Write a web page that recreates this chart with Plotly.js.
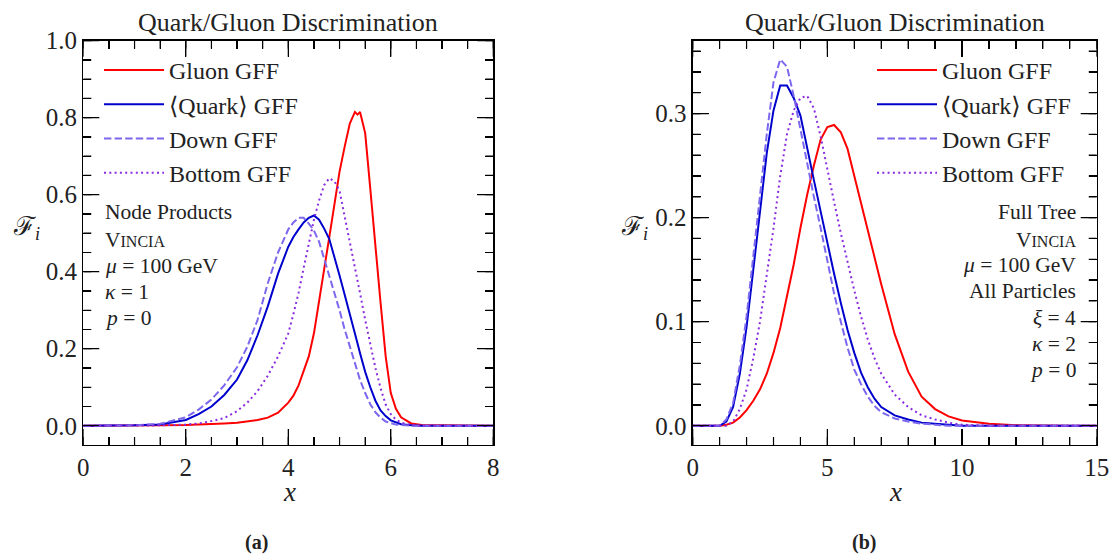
<!DOCTYPE html>
<html>
<head>
<meta charset="utf-8">
<script src="https://cdn.plot.ly/plotly-3.0.1.min.js"></script>
<style>html,body{margin:0;padding:0;background:#fff;}#chart{width:1110px;height:554px;}</style>
</head>
<body>
<div id="chart"></div>
<script>
// ---------- data ----------
var seriesNames = ['Gluon GFF', '\u27E8Quark\u27E9 GFF', 'Down GFF', 'Bottom GFF'];

// (a) Node Products
var xLeft = [0, 0.5, 1.0, 1.5, 2.0, 2.25, 2.5, 2.75, 3.0, 3.2, 3.4, 3.6, 3.8, 4.0, 4.1, 4.2, 4.3, 4.4, 4.5, 4.6, 4.7, 4.8, 4.9, 5.0, 5.1, 5.2, 5.3, 5.35, 5.4, 5.5, 5.6, 5.7, 5.8, 5.9, 6.0, 6.1, 6.2, 6.4, 6.6, 7.0, 7.5, 8.0];
var gluonLeft  = [0, 0, 0, 0.001, 0.002, 0.003, 0.004, 0.006, 0.008, 0.011, 0.015, 0.021, 0.034, 0.06, 0.078, 0.105, 0.14, 0.18, 0.24, 0.32, 0.405, 0.49, 0.575, 0.66, 0.725, 0.785, 0.815, 0.808, 0.815, 0.76, 0.615, 0.46, 0.32, 0.18, 0.085, 0.044, 0.022, 0.006, 0.002, 0.001, 0, 0];
var quarkLeft  = [0, 0, 0.001, 0.003, 0.015, 0.03, 0.05, 0.08, 0.12, 0.17, 0.235, 0.31, 0.395, 0.465, 0.49, 0.51, 0.528, 0.54, 0.546, 0.535, 0.512, 0.485, 0.44, 0.39, 0.34, 0.292, 0.24, 0.214, 0.188, 0.14, 0.1, 0.065, 0.04, 0.025, 0.014, 0.008, 0.004, 0.001, 0, 0, 0, 0];
var downLeft   = [0, 0, 0.001, 0.005, 0.022, 0.042, 0.068, 0.105, 0.152, 0.205, 0.275, 0.37, 0.45, 0.51, 0.528, 0.54, 0.54, 0.525, 0.507, 0.478, 0.435, 0.39, 0.345, 0.30, 0.25, 0.205, 0.16, 0.14, 0.119, 0.085, 0.056, 0.035, 0.021, 0.011, 0.006, 0.003, 0.002, 0, 0, 0, 0, 0];
var bottomLeft = [0, 0, 0, 0.001, 0.003, 0.006, 0.012, 0.02, 0.038, 0.06, 0.09, 0.13, 0.18, 0.24, 0.29, 0.345, 0.41, 0.47, 0.535, 0.585, 0.625, 0.643, 0.635, 0.61, 0.545, 0.475, 0.41, 0.377, 0.344, 0.275, 0.21, 0.15, 0.098, 0.055, 0.03, 0.016, 0.008, 0.002, 0, 0, 0, 0];

// (b) Full Tree
var xRight = [0, 0.5, 1.0, 1.25, 1.5, 1.75, 2.0, 2.25, 2.5, 2.75, 3.0, 3.25, 3.5, 3.75, 4.0, 4.25, 4.5, 4.75, 5.0, 5.25, 5.5, 5.75, 6.0, 6.25, 6.5, 6.75, 7.0, 7.5, 8.0, 8.5, 9.0, 9.5, 10, 11, 12, 13, 14, 15];
var gluonRight  = [0, 0, 0, 0.001, 0.003, 0.008, 0.015, 0.024, 0.035, 0.05, 0.07, 0.094, 0.124, 0.155, 0.19, 0.222, 0.25, 0.275, 0.287, 0.289, 0.282, 0.266, 0.24, 0.213, 0.187, 0.162, 0.136, 0.088, 0.052, 0.028, 0.016, 0.009, 0.005, 0.002, 0.0005, 0, 0, 0];
var quarkRight  = [0, 0, 0, 0.004, 0.018, 0.05, 0.095, 0.15, 0.208, 0.262, 0.303, 0.327, 0.327, 0.315, 0.298, 0.266, 0.236, 0.206, 0.175, 0.146, 0.118, 0.092, 0.07, 0.051, 0.037, 0.026, 0.018, 0.01, 0.006, 0.003, 0.002, 0.001, 0, 0, 0, 0, 0, 0];
var downRight   = [0, 0, 0, 0.006, 0.022, 0.058, 0.105, 0.163, 0.222, 0.28, 0.33, 0.352, 0.345, 0.317, 0.285, 0.252, 0.22, 0.19, 0.158, 0.127, 0.1, 0.075, 0.054, 0.04, 0.028, 0.019, 0.013, 0.007, 0.004, 0.002, 0.001, 0, 0, 0, 0, 0, 0, 0];
var bottomRight = [0, 0, 0, 0, 0.004, 0.016, 0.035, 0.065, 0.1, 0.145, 0.19, 0.24, 0.28, 0.303, 0.315, 0.317, 0.305, 0.278, 0.245, 0.215, 0.185, 0.157, 0.13, 0.105, 0.083, 0.065, 0.05, 0.03, 0.018, 0.01, 0.006, 0.003, 0.001, 0, 0, 0, 0, 0];

var titleText = 'Quark/Gluon Discrimination';
var leftInfo  = ['Node Products', 'V<span style="font-size:16px">INCIA</span>', '<i>\u03BC</i> = 100 GeV', '<i>\u03BA</i> = 1', '<i>p</i> = 0'];
var rightInfo = ['Full Tree', 'V<span style="font-size:16px">INCIA</span>', '<i>\u03BC</i> = 100 GeV', 'All Particles', '<i>\u03BE</i> = 4', '<i>\u03BA</i> = 2', '<i>p</i> = 0'];
var panelLabels = ['(a)', '(b)'];

(function () {
  var FONT = '"Liberation Serif", "DejaVu Serif", serif';
  var colors = ['#ff0000', '#0000cd', '#7b68ee', '#8a2be2'];
  var dashes = ['solid', 'solid', '7.4px,3.2px', '2px,3.3px'];
  var W = 1110, H = 554;
  function fx(x) { return x / W; }
  function fy(y) { return 1 - y / H; }

  var yTop = 40.7, yBot = 445;
  var xL0 = 83.3, xL1 = 493.3, xR0 = 692.7, xR1 = 1096.7;
  var rangeXL = [0, 8], rangeYL = [-0.05, 1.0], rangeXR = [0, 15], rangeYR = [-0.0185, 0.37];

  var traces = [];

  // inside tick marks on all four sides of each panel, drawn as thin line traces
  function tickValues(lo, hi, step) {
    var out = [], n = Math.round((hi - lo) / step);
    for (var k = 0; k <= n; k++) out.push(Math.round((lo + k * step) * 1e6) / 1e6);
    return out;
  }
  function tickTrace(xa, ya, rx, ry, pw, ph, xMaj, xMin, yMaj, yMin) {
    var xs = [], ys = [];
    var ux = (rx[1] - rx[0]) / pw, uy = (ry[1] - ry[0]) / ph;
    function xt(vals, len) {
      vals.forEach(function (v) {
        xs.push(v, v, null, v, v, null);
        ys.push(ry[0], ry[0] + len * uy, null, ry[1] - len * uy, ry[1], null);
      });
    }
    function yt(vals, len) {
      vals.forEach(function (v) {
        if (v < ry[0] || v > ry[1]) return;
        xs.push(rx[0], rx[0] + len * ux, null, rx[1] - len * ux, rx[1], null);
        ys.push(v, v, null, v, v, null);
      });
    }
    xt(xMaj, 16); xt(xMin, 8); yt(yMaj, 16); yt(yMin, 8);
    return {x: xs, y: ys, type: 'scatter', mode: 'lines', xaxis: xa, yaxis: ya, showlegend: false,
      hoverinfo: 'skip', connectgaps: false, line: {color: '#000', width: 1.2}};
  }
  traces.push(tickTrace('x', 'y', rangeXL, rangeYL, xL1 - xL0, yBot - yTop,
    tickValues(0, 8, 2), tickValues(0, 8, 0.5), tickValues(0, 1, 0.2), tickValues(0, 1, 0.05)));
  traces.push(tickTrace('x2', 'y2', rangeXR, rangeYR, xR1 - xR0, yBot - yTop,
    tickValues(0, 15, 5), tickValues(0, 15, 1), tickValues(0, 0.3, 0.1), tickValues(0, 0.36, 0.02)));

  var leftY = [gluonLeft, quarkLeft, downLeft, bottomLeft];
  var rightY = [gluonRight, quarkRight, downRight, bottomRight];
  for (var i = 0; i < 4; i++) {
    traces.push({x: xLeft, y: leftY[i], type: 'scatter', mode: 'lines', name: seriesNames[i],
      line: {color: colors[i], width: 2, dash: dashes[i]}, xaxis: 'x', yaxis: 'y', legend: 'legend'});
  }
  for (var j = 0; j < 4; j++) {
    traces.push({x: xRight, y: rightY[j], type: 'scatter', mode: 'lines', name: seriesNames[j],
      line: {color: colors[j], width: 2, dash: dashes[j]}, xaxis: 'x2', yaxis: 'y2', legend: 'legend2'});
  }

  function axis(opts, minorDtick) {
    var ax = {
      showline: true, linecolor: '#000', linewidth: 1.3, mirror: 'allticks', layer: 'above traces',
      ticks: 'inside', ticklen: 16, tickwidth: 1.2, tickcolor: '#000',
      showgrid: false, zeroline: false,
      tickfont: {family: FONT, size: 25, color: '#222'},
      minor: {ticks: 'inside', ticklen: 8, tickwidth: 1.2, tickcolor: '#000', dtick: minorDtick, showgrid: false}
    };
    for (var k in opts) ax[k] = opts[k];
    return ax;
  }

  var layout = {
    width: W, height: H,
    margin: {l: 0, r: 0, t: 0, b: 0},
    paper_bgcolor: '#fff', plot_bgcolor: '#fff',
    font: {family: FONT, color: '#222'},
    showlegend: true,
    xaxis: axis({domain: [fx(xL0), fx(xL1)], range: rangeXL, dtick: 2, tick0: 0, anchor: 'y'}, 0.5),
    yaxis: axis({domain: [fy(yBot), fy(yTop)], range: rangeYL, dtick: 0.2, tick0: 0, tickformat: '.1f', anchor: 'x'}, 0.05),
    xaxis2: axis({domain: [fx(xR0), fx(xR1)], range: rangeXR, dtick: 5, tick0: 0, anchor: 'y2'}, 1),
    yaxis2: axis({domain: [fy(yBot), fy(yTop)], range: rangeYR, dtick: 0.1, tick0: 0, tickformat: '.1f', anchor: 'x2'}, 0.02),
    legend: {x: fx(99), y: fy(48), xanchor: 'left', yanchor: 'top', bgcolor: 'rgba(0,0,0,0)', borderwidth: 0,
      font: {family: FONT, size: 24, color: '#222'}, itemwidth: 60, tracegroupgap: 0},
    legend2: {x: fx(872), y: fy(48), xanchor: 'left', yanchor: 'top', bgcolor: 'rgba(0,0,0,0)', borderwidth: 0,
      font: {family: FONT, size: 24, color: '#222'}, itemwidth: 60, tracegroupgap: 0},
    annotations: []
  };

  var ann = layout.annotations;
  function addText(text, x, y, size, xanchor) {
    ann.push({text: text, xref: 'paper', yref: 'paper', x: fx(x), y: fy(y), xanchor: xanchor || 'center', yanchor: 'middle',
      showarrow: false, font: {family: FONT, size: size, color: '#222'}});
  }
  addText(titleText, 288.3, 22, 26);
  addText(titleText, 894.7, 22, 26);
  addText('\u2131<sub><i>i</i></sub>', 26, 228, 26);
  addText('\u2131<sub><i>i</i></sub>', 634, 228, 26);
  addText('<i>x</i>', 289, 492, 27);
  addText('<i>x</i>', 895, 492, 27);
  addText('<b>' + panelLabels[0] + '</b>', 256, 542, 20);
  addText('<b>' + panelLabels[1] + '</b>', 864, 542, 20);
  var leftRows = [212, 240, 266, 292, 318];
  for (var m = 0; m < leftInfo.length; m++) addText(leftInfo[m], 103, leftRows[m], 21.5, 'left');
  var rightRows = [212, 240, 265, 291, 318, 344, 370];
  for (var n = 0; n < rightInfo.length; n++) addText(rightInfo[n], 1078, rightRows[n], 21.5, 'right');

  Plotly.newPlot('chart', traces, layout, {displayModeBar: false, staticPlot: true});
})();
</script>
</body>
</html>
